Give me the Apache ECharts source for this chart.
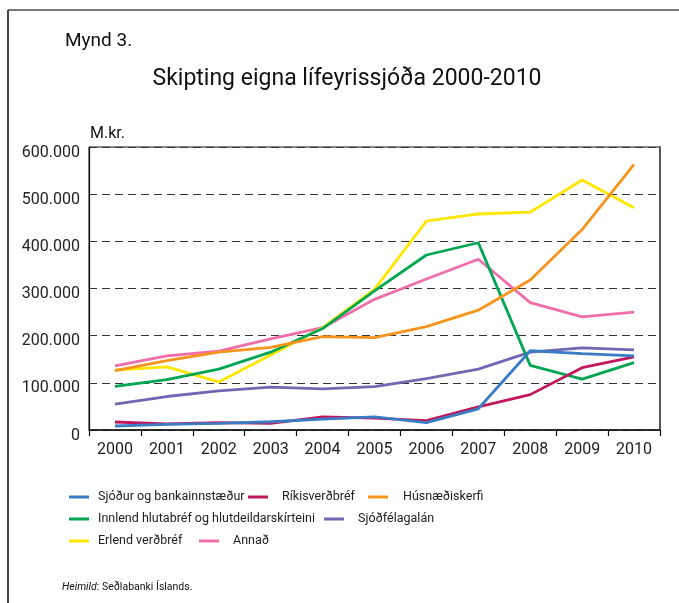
<!DOCTYPE html>
<html>
<head>
<meta charset="utf-8">
<script src="https://cdn.jsdelivr.net/npm/echarts@6/dist/echarts.min.js"></script>
<style>
  html, body { margin: 0; padding: 0; background: #fff; }
  #main { width: 679px; height: 603px; }
</style>
</head>
<body>
<div id="main"></div>
<script>
// ár
var years = ['2000', '2001', '2002', '2003', '2004', '2005', '2006', '2007', '2008', '2009', '2010'];

// M.kr.
var sjodur    = [8500, 12000, 14000, 17500, 23000, 28000, 15500, 45000, 168000, 162000, 157000];
var rikis     = [17000, 13000, 15500, 14000, 28000, 25000, 20000, 49000, 75000, 132000, 155000];
var husnaedi  = [126000, 147000, 165000, 175000, 198000, 196000, 219000, 254000, 318000, 425000, 563000];
var innlend   = [92500, 107000, 129000, 165000, 215000, 295000, 371000, 397000, 137000, 108000, 143000];
var sjodfelag = [55000, 71000, 83000, 91000, 87000, 92000, 109000, 129000, 165000, 174000, 170000];
var erlend    = [127000, 134000, 102000, 159000, 217000, 298000, 443000, 458000, 462000, 530000, 471000];
var annad     = [136000, 157000, 167000, 193000, 217000, 277000, 320000, 362000, 270000, 240000, 250000];

var names = ['Sjóður og bankainnstæður', 'Ríkisverðbréf', 'Húsnæðiskerfi',
    'Innlend hlutabréf og hlutdeildarskírteini', 'Sjóðfélagalán', 'Erlend verðbréf', 'Annað'];
var values = [sjodur, rikis, husnaedi, innlend, sjodfelag, erlend, annad];
var colors = ['#3b7dc4', '#c2185b', '#f7941d', '#00a651', '#7367b3', '#ffe600', '#f06eaa'];

var FONT = 'Roboto, sans-serif';

// staðsetning skýringa (vinstri, efst, bil milli tákns og texta)
var legendPos = [
    [69, 489, 4], [248, 489, 9], [368, 489, 10],
    [69, 511, 4], [324, 511, 9],
    [69, 533, 4], [199, 533, 9]
];

function fmt(v) {
    return String(v).replace(/\B(?=(\d{3})+(?!\d))/g, '.');
}

var series = [];
var legends = [];
for (var i = 0; i < names.length; i++) {
    series.push({
        name: names[i],
        type: 'line',
        data: values[i],
        symbol: 'none',
        smooth: false,
        z: 10 - i,
        yAxisIndex: 0,
        lineStyle: { color: colors[i], width: 2.8 },
        itemStyle: { color: colors[i] }
    });
    legends.push({
        data: [names[i]],
        left: legendPos[i][0],
        top: legendPos[i][1],
        padding: 0,
        icon: 'rect',
        itemWidth: 20,
        itemHeight: 3,
        selectedMode: false,
        textStyle: {
            fontFamily: FONT,
            fontSize: 12.5,
            color: '#222',
            lineHeight: 16,
            padding: [0, 0, 0, legendPos[i][2]]
        }
    });
}

var option = {
    animation: false,
    backgroundColor: '#fff',
    grid: { left: 89, right: 19, top: 147, bottom: 173, show: true, borderColor: '#111', borderWidth: 1 },
    legend: legends,
    xAxis: {
        type: 'category',
        data: years,
        boundaryGap: true,
        axisLine: { lineStyle: { color: '#111', width: 1.5 } },
        axisTick: { show: true, length: 6, lineStyle: { color: '#111', width: 1.2 } },
        axisLabel: { color: '#222', fontFamily: FONT, fontSize: 16, margin: 12 },
        splitLine: { show: false }
    },
    yAxis: [{
        type: 'value',
        min: 0,
        max: 600000,
        interval: 100000,
        axisLine: { show: true, lineStyle: { color: '#111', width: 1.2 } },
        axisTick: { show: false },
        axisLabel: {
            color: '#222', fontFamily: FONT, fontSize: 16, margin: 9,
            verticalAlign: 'top', lineHeight: 11,
            formatter: function (v) { return fmt(v); }
        },
        splitLine: { show: true, lineStyle: { color: '#333', width: 1.2, type: [8, 5] } }
    }, {
        type: 'value',
        position: 'right',
        min: 0,
        max: 600000,
        interval: 100000,
        axisLine: { show: true, lineStyle: { color: '#555', width: 2 } },
        axisTick: { show: false },
        axisLabel: { show: false },
        splitLine: { show: false }
    }],
    graphic: [
        { type: 'line', shape: { x1: 8, y1: 10, x2: 679, y2: 10 }, style: { stroke: '#777', lineWidth: 2 } },
        { type: 'line', shape: { x1: 8, y1: 10, x2: 8, y2: 603 }, style: { stroke: '#444', lineWidth: 2 } },
        { type: 'text', x: 65, y: 41, style: { text: 'Mynd 3.', font: '19px ' + FONT, fill: '#111', verticalAlign: 'middle' } },
        { type: 'text', x: 347, y: 79, style: { text: 'Skipting eigna lífeyrissjóða 2000-2010', font: '23px ' + FONT, fill: '#111', align: 'center', verticalAlign: 'middle' } },
        { type: 'text', x: 90, y: 134, style: { text: 'M.kr.', font: '16px ' + FONT, fill: '#111', verticalAlign: 'middle' } },
        {
            type: 'text', x: 62, y: 587,
            style: {
                text: '{i|Heimild}: Seðlabanki Íslands.',
                font: '10.5px ' + FONT, fill: '#111', verticalAlign: 'middle',
                rich: { i: { fontStyle: 'italic', fontFamily: FONT, fontSize: 10.5 } }
            }
        }
    ],
    series: series
};

var myChart = echarts.init(document.getElementById('main'));
myChart.setOption(option);
</script>
</body>
</html>
